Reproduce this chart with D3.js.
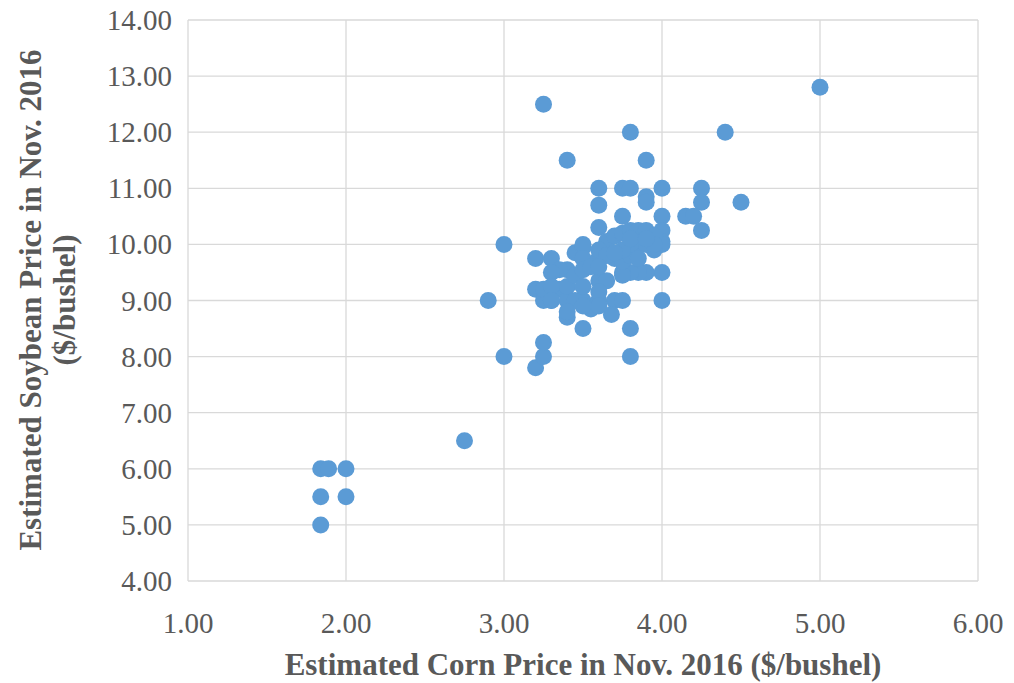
<!DOCTYPE html>
<html>
<head>
<meta charset="utf-8">
<script src="https://cdn.jsdelivr.net/npm/d3@7"></script>
<style>
  body { margin: 0; background: #fff; }
  svg text { font-family: "Liberation Serif", "Times New Roman", serif; fill: #595959; }
</style>
</head>
<body>
<svg id="chart" width="1014" height="683"></svg>
<script>
// corn price ($/bushel) estimates
var corn = [
  1.84, 1.89, 2.0, 1.84, 2.0, 1.84, 2.75, 2.9, 3.0, 3.0,
  3.2, 3.25, 3.25, 3.25, 3.4, 3.8, 4.4, 5.0, 3.9,
  3.6, 3.75, 3.8, 4.0, 4.25, 3.9, 3.9, 4.5, 4.25, 3.6,
  4.15, 4.2, 4.0, 3.75, 4.25, 4.0, 3.6, 4.0, 4.0, 3.95,
  3.2, 3.3, 3.45, 3.5, 3.5, 3.4, 3.35, 3.3,
  3.2, 3.25, 3.3, 3.35, 3.4, 3.4, 3.5, 3.5, 3.6, 3.7, 3.75, 4.0, 3.68, 3.8, 3.8,
  4.0, 3.9, 3.85, 3.8, 3.75, 3.75,
  3.6, 3.65, 3.4, 3.6, 3.55, 3.6,
  3.5, 3.6, 3.65, 3.7, 3.75, 3.8, 3.85, 3.9, 3.95,
  3.7, 3.75, 3.8, 3.85, 3.9, 3.8, 3.75, 3.8, 3.95, 3.6, 3.65,
  3.45, 3.5, 3.25, 3.3, 3.45, 3.5, 3.4, 3.55, 3.6, 3.7, 3.85, 3.9, 3.3, 3.5
];
// soybean price ($/bushel) estimates, same order
var soy = [
  6.0, 6.0, 6.0, 5.5, 5.5, 5.0, 6.5, 9.0, 10.0, 8.0,
  7.8, 8.0, 8.25, 12.5, 11.5, 12.0, 12.0, 12.8, 11.5,
  11.0, 11.0, 11.0, 11.0, 11.0, 10.85, 10.75, 10.75, 10.75, 10.7,
  10.5, 10.5, 10.5, 10.5, 10.25, 10.25, 10.3, 10.05, 10.0, 9.9,
  9.75, 9.75, 9.85, 9.95, 10.0, 9.55, 9.55, 9.5,
  9.2, 9.0, 9.0, 9.2, 9.0, 8.7, 9.0, 8.5, 9.0, 9.0, 9.0, 9.0, 8.75, 8.5, 8.0,
  9.5, 9.5, 9.5, 9.5, 9.5, 9.45,
  9.35, 9.35, 9.25, 9.15, 8.85, 8.9,
  9.75, 9.75, 10.05, 10.15, 10.2, 10.25, 10.25, 10.25, 10.15,
  9.75, 9.7, 9.8, 10.0, 10.0, 10.0, 9.9, 10.1, 10.0, 9.9, 9.8,
  9.45, 9.55, 9.2, 9.25, 9.0, 8.9, 8.8, 9.6, 9.6, 9.85, 9.75, 10.1, 9.0, 9.25
];
var xTicks = [1, 2, 3, 4, 5, 6];
var yTicks = [4, 5, 6, 7, 8, 9, 10, 11, 12, 13, 14];

var svg = d3.select('#chart');
var plotLeft = 188, plotRight = 978, plotTop = 20, plotBottom = 581;

var x = d3.scaleLinear().domain([1, 6]).range([plotLeft, plotRight]);
var y = d3.scaleLinear().domain([4, 14]).range([plotBottom, plotTop]);

// gridlines
svg.append('g').selectAll('line').data(xTicks).enter().append('line')
  .attr('x1', function(d) { return x(d); }).attr('x2', function(d) { return x(d); })
  .attr('y1', plotTop).attr('y2', plotBottom)
  .attr('stroke', '#d9d9d9').attr('stroke-width', 1.3);
svg.append('g').selectAll('line').data(yTicks).enter().append('line')
  .attr('y1', function(d) { return y(d); }).attr('y2', function(d) { return y(d); })
  .attr('x1', plotLeft).attr('x2', plotRight)
  .attr('stroke', '#d9d9d9').attr('stroke-width', 1.3);

// tick labels
svg.append('g').selectAll('text').data(xTicks).enter().append('text')
  .attr('x', function(d) { return x(d); }).attr('y', 633)
  .attr('text-anchor', 'middle').attr('font-size', 29)
  .text(function(d) { return d.toFixed(2); });
svg.append('g').selectAll('text').data(yTicks).enter().append('text')
  .attr('x', 172).attr('y', function(d) { return y(d) + 10; })
  .attr('text-anchor', 'end').attr('font-size', 29)
  .text(function(d) { return d.toFixed(2); });

// points
svg.append('g').selectAll('circle').data(corn).enter().append('circle')
  .attr('cx', function(d) { return x(d); })
  .attr('cy', function(d, i) { return y(soy[i]); })
  .attr('r', 8.5)
  .attr('fill', '#5b9bd5');

// axis titles
svg.append('text').attr('x', 583).attr('y', 675)
  .attr('text-anchor', 'middle').attr('font-size', 31).attr('font-weight', 'bold')
  .text('Estimated Corn Price in Nov. 2016 ($/bushel)');
var yt = svg.append('text').attr('transform', 'translate(0,300) rotate(-90)')
  .attr('text-anchor', 'middle').attr('font-size', 31).attr('font-weight', 'bold');
yt.append('tspan').attr('x', 0).attr('y', 41).text('Estimated Soybean Price in Nov. 2016');
yt.append('tspan').attr('x', 0).attr('y', 75).text('($/bushel)');
</script>
</body>
</html>
